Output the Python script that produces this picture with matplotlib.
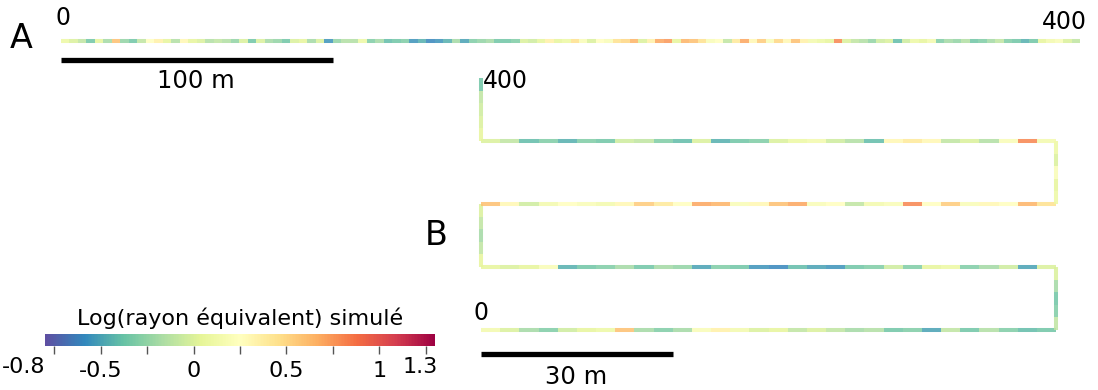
import numpy as np
import matplotlib
matplotlib.use('Agg')
import matplotlib.pyplot as plt
from matplotlib.collections import LineCollection
from matplotlib.colors import Normalize

# Profil A : ligne droite de 0 a 400 m (valeurs lues de gauche a droite)
valeurs_A = [
    0.1, 0.0, -0.1, -0.35, 0.05, -0.2, 0.6, -0.25, -0.35, -0.1,
    0.25, 0.35, 0.05, -0.15, 0.3, 0.05, 0.0, -0.15, -0.1, -0.15,
    -0.25, 0.0, -0.35, 0.0, -0.2, -0.25, -0.35, 0.0, 0.05, -0.2,
    0.0, -0.55, -0.25, -0.15, -0.15, 0.1, -0.3, -0.2, -0.4, -0.35,
    -0.3, -0.55, -0.45, -0.6, -0.55, -0.45, -0.2, -0.5, -0.3, -0.25,
    -0.2, -0.35, -0.35, -0.3, 0.0, -0.05, 0.05, 0.35, 0.05, 0.1,
    0.45, 0.2, 0.0, 0.25, 0.2, 0.45, 0.5, 0.65, 0.0, 0.35,
    0.7, 0.75, 0.05, 0.65, 0.6, 0.45, 0.2, 0.25, -0.1, 0.4,
    0.7, 0.3, 0.55, 0.2, 0.5, 0.3, 0.6, 0.35, 0.15, 0.1,
    0.05, 0.8, 0.0, -0.1, -0.15, -0.25, -0.05, 0.0, -0.4, -0.05,
    0.1, 0.05, 0.15, -0.3, -0.2, -0.25, -0.15, -0.35, -0.3, -0.2,
    -0.1, -0.3, -0.35, -0.45, -0.35, 0.05, 0.15, 0.2, 0.0, -0.1,
]

# Profil B : serpentin (branches de 90 m lues de gauche a droite, remontees de 10 m lues de bas en haut)
branche_1 = [
    0.15, 0.0, -0.2, -0.3, -0.05, 0.05, 0.1, 0.6, -0.2, -0.3,
    -0.2, 0.2, 0.35, 0.15, 0.0, 0.05, -0.1, 0.0, -0.1, -0.2,
    -0.15, -0.35, -0.3, -0.5, -0.1, -0.35, -0.15, -0.3, -0.4, -0.35,
]
montee_1 = [-0.1, -0.3, -0.35, -0.2, 0.0]
branche_2 = [
    0.05, 0.0, 0.05, 0.2, -0.45, -0.35, -0.3, -0.2, -0.35, -0.2,
    -0.25, -0.5, -0.3, -0.35, -0.55, -0.6, -0.4, -0.5, -0.55, -0.35,
    -0.3, -0.05, -0.3, 0.05, 0.1, -0.3, -0.2, -0.05, -0.5, 0.0,
]
montee_2 = [0.05, -0.1, -0.2, -0.1, 0.0]
branche_3 = [
    0.6, 0.3, -0.05, 0.15, 0.25, 0.2, 0.15, 0.3, 0.55, 0.4,
    0.25, 0.7, 0.65, 0.2, 0.3, 0.6, 0.7, 0.2, 0.25, -0.1,
    0.15, 0.2, 0.8, 0.25, 0.55, 0.2, 0.3, 0.25, 0.65, 0.45,
]
montee_3 = [0.1, 0.05, 0.2, 0.0, 0.1]
branche_4 = [
    0.0, -0.1, -0.4, -0.3, -0.45, -0.3, -0.35, -0.05, -0.1, -0.3,
    -0.4, 0.0, -0.45, -0.35, -0.3, 0.0, 0.1, 0.15, -0.05, -0.15,
    -0.4, 0.3, 0.4, 0.3, -0.1, 0.0, -0.15, 0.2, 0.8, 0.15,
]
montee_4 = [0.05, 0.0, -0.05, -0.1, -0.35]

vmin, vmax = -0.8, 1.3
W, H = 1098, 390


def px(x, y):
    """pixel -> fraction de figure"""
    return x / W, 1 - y / H


def segments(p0, p1, n):
    pts = np.linspace(p0, p1, n + 1)
    return np.stack([pts[:-1], pts[1:]], axis=1)


def trace(ax, segs, vals, norm, cmap):
    lc = LineCollection(segs, cmap=cmap, norm=norm, linewidths=2.9,
                        alpha=0.85, capstyle='butt', clip_on=False)
    lc.set_array(np.asarray(vals))
    ax.add_collection(lc)


def main():
    cmap = plt.get_cmap('Spectral_r')
    norm = Normalize(vmin=vmin, vmax=vmax)

    fig = plt.figure(figsize=(W / 100, H / 100), dpi=100)

    # --- A : ligne droite
    axA = fig.add_axes([61 / W, 1 - 90 / H, 1019 / W, 70 / H])
    axA.set_xlim(0, 400)
    axA.set_ylim(0, 1)
    axA.axis('off')
    trace(axA, segments((0, 0.7), (400, 0.7), len(valeurs_A)), valeurs_A, norm, cmap)
    axA.plot([0, 0.267], [0.43, 0.43], transform=axA.transAxes, color='black',
             lw=3.8, solid_capstyle='butt', clip_on=False)

    # --- B : serpentin
    axB = fig.add_axes([481 / W, 1 - 330 / H, 575 / W, 252 / H])
    axB.set_xlim(0, 90)
    axB.set_ylim(0, 40)
    axB.axis('off')
    legs = [
        ((0, 0), (90, 0), branche_1),
        ((90, 0), (90, 10), montee_1),
        ((90, 10), (0, 10), branche_2[::-1]),
        ((0, 10), (0, 20), montee_2),
        ((0, 20), (90, 20), branche_3),
        ((90, 20), (90, 30), montee_3),
        ((90, 30), (0, 30), branche_4[::-1]),
        ((0, 30), (0, 40), montee_4),
    ]
    segs, vals = [], []
    for p0, p1, v in legs:
        segs.append(segments(p0, p1, len(v)))
        vals.extend(v)
    trace(axB, np.concatenate(segs), vals, norm, cmap)
    axB.plot([0, 30], [-3.8, -3.8], color='black', lw=3.8,
             solid_capstyle='butt', clip_on=False)

    # --- textes
    fig.text(*px(21, 38), 'A', fontsize=24, ha='center', va='center')
    fig.text(*px(63, 18), '0', fontsize=17, ha='center', va='center')
    fig.text(*px(1064, 22), '400', fontsize=17, ha='center', va='center')
    fig.text(*px(196, 81), '100 m', fontsize=17.5, ha='center', va='center')
    fig.text(*px(436, 236), 'B', fontsize=24, ha='center', va='center')
    fig.text(*px(483, 81), '400', fontsize=17, ha='left', va='center')
    fig.text(*px(481, 313), '0', fontsize=17, ha='center', va='center')
    fig.text(*px(576, 377), '30 m', fontsize=17.5, ha='center', va='center')

    # --- barre de couleur
    cax = fig.add_axes([45 / W, 1 - 346 / H, 390 / W, 12 / H])
    sm = plt.cm.ScalarMappable(norm=norm, cmap=cmap)
    cb = fig.colorbar(sm, cax=cax, orientation='horizontal')
    cb.outline.set_visible(False)
    cb.set_ticks([-0.75, -0.5, -0.25, 0, 0.25, 0.5, 0.75, 1, 1.25])
    cb.set_ticklabels(['', '-0.5', '', '0', '', '0.5', '', '1', ''])
    cax.tick_params(labelsize=16, length=6, width=1, color='#555555', pad=5)
    fig.text(*px(240, 318), 'Log(rayon équivalent) simulé', fontsize=16,
             ha='center', va='center')
    fig.text(*px(24, 367), '-0.8', fontsize=16, ha='center', va='center')
    fig.text(*px(420, 367), '1.3', fontsize=16, ha='center', va='center')

    fig.savefig('out.png', dpi=100)


if __name__ == '__main__':
    main()
